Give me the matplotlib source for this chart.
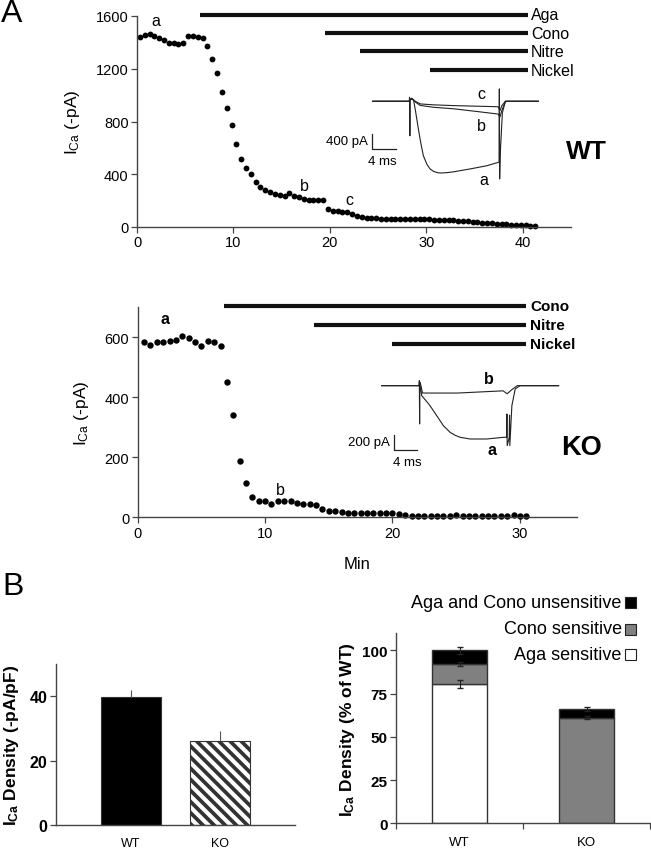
import numpy as np
import matplotlib
matplotlib.use("Agg")
import matplotlib.pyplot as plt

plt.rcParams['font.family'] = ['Liberation Sans', 'DejaVu Sans']
plt.rcParams['mathtext.fontset'] = 'custom'
plt.rcParams['mathtext.rm'] = 'Liberation Sans'
plt.rcParams['mathtext.it'] = 'Liberation Sans:italic'
plt.rcParams['mathtext.bf'] = 'Liberation Sans:bold'
plt.rcParams['hatch.linewidth'] = 2.7
plt.rcParams['hatch.color'] = 'black'

# ---- Panel A, WT time course (one point every 0.5 min from 0.3 min) ----
wt_t0, wt_dt = 0.3, 0.5
wt_current = [1443, 1458, 1461, 1452, 1435, 1415, 1395, 1398, 1385, 1398,
              1445, 1446, 1442, 1432, 1370, 1275, 1170, 1025, 905, 770,
              630, 515, 445, 405, 345, 305, 283, 263, 250, 243,
              233, 258, 238, 225, 212, 207, 207, 205, 205, 136,
              124, 118, 117, 115, 100, 87, 79, 72, 68, 66,
              64, 63, 62, 63, 64, 62, 63, 64, 62, 60,
              58, 56, 55, 54, 52, 50, 47, 44, 42, 39,
              36, 33, 30, 28, 25, 22, 20, 18, 16, 14,
              12, 10, 6]
wt_drugs = ['Aga', 'Cono', 'Nitre', 'Nickel']
wt_drug_start = [6.5, 19.5, 23.1, 30.4]
wt_drug_end = 40.5
wt_drug_level = [1608, 1468, 1332, 1190]

# ---- Panel A, KO time course ----
ko_t0, ko_dt = 0.5, 0.5
ko_current = [585, 574, 585, 585, 587, 592, 605, 598, 583, 572,
              587, 583, 572, 450, 342, 187, 113, 68, 54, 53,
              44, 55, 55, 53, 47, 43, 45, 42, 28, 22,
              20, 17, 16, 15, 14, 14, 15, 16, 15, 13,
              12, 8, 5, 4, 5, 6, 6, 5, 6, 7,
              5, 4, 3, 3, 4, 3, 5, 6, 7, 5, 3]
ko_drugs = ['Cono', 'Nitre', 'Nickel']
ko_drug_start = [6.8, 13.8, 20.0]
ko_drug_end = 30.5
ko_drug_level = [705, 641, 578]

# ---- example current traces (ms, pA) ----
wt_trace_a_t = [0, 6.0, 6.05, 6.1, 6.15, 6.7, 7.0, 7.24, 7.5, 7.78, 8.05, 8.32, 8.9, 9.4,
                10.0, 10.7, 11.3, 12.3, 13.3, 16.1, 18.7,
                20.6, 20.75, 20.8, 20.85, 20.95, 21.3, 21.8, 27.2]
wt_trace_a_i = [0, 0, 110, -920, 60, 40, -230, -472, -740, -1005, -1240, -1451, -1680, -1800,
                -1870, -1905, -1912, -1900, -1880, -1800, -1720,
                -1630, -1620, 330, -2070, -1400, -300, 0, 0]
wt_trace_bc_t = [0, 6.0, 6.4, 7.0, 7.8, 10.0, 13.3, 17.0, 20.6, 20.9, 21.2, 21.8, 27.2]
wt_trace_b_i = [0, 0, 80, -20, -110, -160, -200, -270, -340, -420, -250, 0, 0]
wt_trace_c_i = [0, 0, 80, 0, -70, -95, -115, -130, -145, -250, -120, 0, 0]

ko_trace_a_t = [0, 6.4, 6.45, 6.5, 6.55, 6.86, 7.6, 8.28, 9.43, 10.57, 11.72, 12.6, 13.43,
                15.15, 18.0, 20.86, 21.4, 21.45, 21.5, 21.85, 21.9, 21.95, 22.3, 22.87, 23.7, 30.3]
ko_trace_a_i = [0, 0, 68, -520, 30, -136, -205, -272, -408, -544, -634, -675, -702,
                -725, -725, -702, -702, -385, -816, -700, -400, -816, -272, -45, 0, 0]
ko_trace_b_t = [0, 6.4, 6.6, 7.0, 13.0, 20.8, 21.5, 22.2, 23.2, 30.3]
ko_trace_b_i = [0, 0, 46, -100, -100, -70, -110, -60, 0, 0]

# ---- Panel B ----
groups = ['WT', 'KO']
density = [39.6, 26.1]
density_err = [2.4, 3.2]
aga_pct = [80.7, 0.0]
cono_pct = [11.2, 61.0]
unsens_pct = [8.1, 5.3]
aga_err = [2.4, 0.0]
cono_err = [1.2, 0.8]
unsens_err = [2.0, 1.2]

W, H = 651, 853
fig = plt.figure(figsize=(W / 100, H / 100), dpi=100)
spine_col = '#444444'


def px_axes(x0, y0, x1, y1):
    return fig.add_axes([x0 / W, 1 - y1 / H, (x1 - x0) / W, (y1 - y0) / H])


def style_axes(ax, tick_size=10.5, bold=False):
    for s in ['top', 'right']:
        ax.spines[s].set_visible(False)
    for s in ['left', 'bottom']:
        ax.spines[s].set_color(spine_col)
        ax.spines[s].set_linewidth(1.0)
    ax.tick_params(direction='out', length=4, width=0.9, color=spine_col,
                   labelsize=tick_size, pad=2)
    if bold:
        for lab in ax.get_yticklabels():
            lab.set_fontweight('bold')


# ================= A: WT =================
ax1 = px_axes(137, 17, 571, 228)
wt_time = wt_t0 + wt_dt * np.arange(len(wt_current))
ax1.plot(wt_time, wt_current, 'o', color='black', ms=4.2, mew=0, clip_on=False)
ax1.set_xlim(0, 45)
ax1.set_ylim(0, 1600)
ax1.set_xticks([0, 10, 20, 30, 40])
ax1.set_yticks([0, 400, 800, 1200, 1600])
style_axes(ax1)
ax1.set_ylabel(r'I$_{\mathrm{Ca}}$ (-pA)', fontsize=12.5, labelpad=10)
for name, st, lv in zip(wt_drugs, wt_drug_start, wt_drug_level):
    ax1.hlines(lv, st, wt_drug_end, color='#111111', lw=3.0, clip_on=False)
    ax1.text(wt_drug_end + 0.35, lv, name, fontsize=11.5, va='center', ha='left')
ax1.text(2.0, 1564, 'a', fontsize=11.5, ha='center', va='center')
ax1.text(17.4, 313, 'b', fontsize=11.5, ha='center', va='center')
ax1.text(22.0, 212, 'c', fontsize=11.5, ha='center', va='center')
fig.text(586.7 / W, 1 - 151.7 / H, 'WT', fontsize=19, fontweight='bold',
         ha='center', va='center')

# WT inset traces
ins1 = px_axes(360, 88, 545, 185)
ins1.set_xlim(-2.09, 28.3)
ins1.set_ylim(-2205, 381)
ins1.axis('off')
ins1.plot(wt_trace_a_t, wt_trace_a_i, color='#222222', lw=0.8)
ins1.plot(wt_trace_bc_t, wt_trace_b_i, color='#222222', lw=0.8)
ins1.plot(wt_trace_bc_t, wt_trace_c_i, color='#222222', lw=0.8)
ins1.plot([-0.16, -0.16, 3.84], [-872, -1272, -1272], color='#222222', lw=0.9)
ins1.text(-0.77, -1070, '400 pA', fontsize=9.5, ha='right', va='center')
ins1.text(1.6, -1600, '4 ms', fontsize=9.5, ha='center', va='center')
ins1.text(17.9, 195, 'c', fontsize=11.5, ha='center', va='center')
ins1.text(17.9, -651, 'b', fontsize=11.5, ha='center', va='center')
ins1.text(18.2, -2072, 'a', fontsize=11.5, ha='center', va='center')

# ================= A: KO =================
ax2 = px_axes(137.7, 308.3, 577.2, 518.3)
ko_time = ko_t0 + ko_dt * np.arange(len(ko_current))
ax2.plot(ko_time, ko_current, 'o', color='black', ms=4.6, mew=0, clip_on=False)
ax2.set_xlim(0, 34.5)
ax2.set_ylim(0, 700)
ax2.set_xticks([0, 10, 20, 30])
ax2.set_yticks([0, 200, 400, 600])
style_axes(ax2)
ax2.set_ylabel(r'I$_{\mathrm{Ca}}$ (-pA)', fontsize=12.5, labelpad=10)
ax2.set_xlabel('Min', fontsize=12, labelpad=12)
for name, st, lv in zip(ko_drugs, ko_drug_start, ko_drug_level):
    ax2.hlines(lv, st, ko_drug_end, color='#111111', lw=3.0, clip_on=False)
    ax2.text(ko_drug_end + 0.3, lv, name, fontsize=11, fontweight='bold',
             va='center', ha='left')
ax2.text(2.14, 661, 'a', fontsize=11.5, fontweight='bold', ha='center', va='center')
ax2.text(11.17, 94, 'b', fontsize=11.5, ha='center', va='center')
fig.text(581.7 / W, 1 - 448.3 / H, 'KO', fontsize=19.5, fontweight='bold',
         ha='center', va='center')

# KO inset traces
ins2 = px_axes(370, 370, 565, 470)
ins2.set_xlim(-2.0, 31.4)
ins2.set_ylim(-1133, 227)
ins2.axis('off')
ins2.plot(ko_trace_a_t, ko_trace_a_i, color='#222222', lw=0.8)
ins2.plot(ko_trace_b_t, ko_trace_b_i, color='#222222', lw=0.8)
ins2.plot([2.11, 2.11, 6.11], [-671, -871, -871], color='#222222', lw=0.9)
ins2.text(1.42, -770, '200 pA', fontsize=9.5, ha='right', va='center')
ins2.text(4.39, -1034, '4 ms', fontsize=9.5, ha='center', va='center')
ins2.text(18.28, 91, 'b', fontsize=11.5, fontweight='bold', ha='center', va='center')
ins2.text(18.87, -871, 'a', fontsize=11.5, fontweight='bold', ha='center', va='center')

# ================= B: left =================
ax3 = px_axes(56, 665, 295, 826)
xpos = np.arange(len(groups))
ax3.bar(xpos[0], density[0], width=0.674, color='black', edgecolor='#333333', lw=0.8)
ax3.bar(xpos[1], density[1], width=0.674, color='white', edgecolor='#333333',
        lw=0.8, hatch='\\\\\\')
ax3.errorbar(xpos, density, yerr=[np.zeros(len(density)), density_err], fmt='none',
             ecolor='#555555', elinewidth=0.8, capsize=0)
ax3.set_xlim(-0.839, 1.846)
ax3.set_ylim(0, 50)
ax3.set_yticks([0, 20, 40])
ax3.set_xticks(xpos)
ax3.set_xticklabels(groups)
style_axes(ax3, tick_size=11.5, bold=True)
ax3.tick_params(axis='x', length=0, pad=9, labelsize=9)
ax3.set_ylabel(r'I$_{\mathbf{Ca}}$ Density (-pA/pF)', fontsize=12.5,
               fontweight='bold', labelpad=6)

# ================= B: right =================
ax4 = px_axes(396, 634, 650, 824.3)
bw = 0.44
base2 = np.array(aga_pct)
base3 = base2 + np.array(cono_pct)
tot = base3 + np.array(unsens_pct)
ax4.bar(xpos, aga_pct, width=bw, color='white', edgecolor='#333333', lw=1.0)
ax4.bar(xpos, cono_pct, width=bw, bottom=base2, color='#808080', edgecolor='#333333', lw=1.0)
ax4.bar(xpos, unsens_pct, width=bw, bottom=base3, color='black', edgecolor='#333333', lw=1.0)
ax4.errorbar(xpos[:1], base2[:1], yerr=aga_err[:1], fmt='none', ecolor='#222222',
             elinewidth=0.8, capsize=2.2)
ax4.errorbar(xpos, base3, yerr=cono_err, fmt='none', ecolor='#222222',
             elinewidth=0.8, capsize=2.2)
ax4.errorbar(xpos, tot, yerr=unsens_err, fmt='none', ecolor='#222222',
             elinewidth=0.8, capsize=2.2)
ax4.set_xlim(-0.5, 1.5)
ax4.set_ylim(0, 110)
ax4.set_yticks([0, 25, 50, 75, 100])
ax4.set_xticks(xpos)
ax4.set_xticklabels(groups)
ax4.set_xticks([-0.5, 0.5, 1.5], minor=True)
style_axes(ax4, tick_size=11, bold=True)
ax4.tick_params(axis='x', which='major', length=0, pad=9, labelsize=9.5)
ax4.tick_params(axis='x', which='minor', length=4, width=0.9, color=spine_col,
                direction='out')
ax4.set_ylabel(r'I$_{\mathbf{Ca}}$ Density (% of WT)', fontsize=12.5,
               fontweight='bold', labelpad=4)

# legend (text right-aligned with squares on the right)
leg_labels = ['Aga and Cono unsensitive', 'Cono sensitive', 'Aga sensitive']
leg_colors = ['black', '#808080', 'white']
leg_y = [603.3, 630, 655.7]
for lab, col, yy in zip(leg_labels, leg_colors, leg_y):
    fig.text(621.7 / W, 1 - yy / H, lab, fontsize=13, ha='right', va='center')
    fig.patches.append(plt.Rectangle((625 / W, 1 - (yy + 5.5) / H), 11 / W, 11 / H,
                                     transform=fig.transFigure, facecolor=col,
                                     edgecolor='#222222', lw=0.8))

# panel letters
fig.text(12 / W, 1 - 14 / H, 'A', fontsize=23, ha='center', va='center')
fig.text(13 / W, 1 - 587 / H, 'B', fontsize=23, ha='center', va='center')

fig.savefig('out.png', dpi=100)
